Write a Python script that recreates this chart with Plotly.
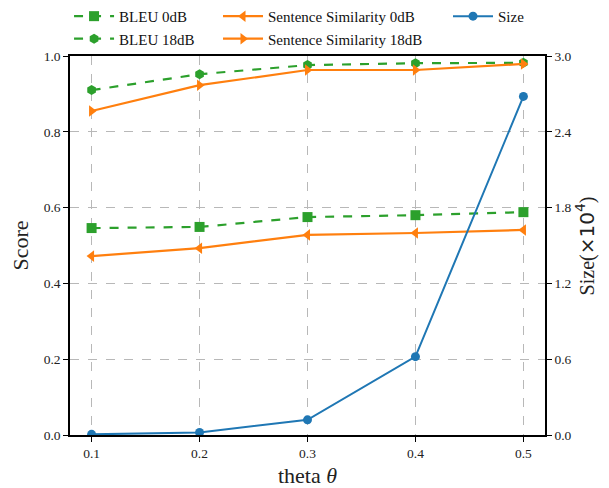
import plotly.graph_objects as go

theta = [0.1, 0.2, 0.3, 0.4, 0.5]
bleu_0db = [0.546, 0.549, 0.575, 0.580, 0.588]
bleu_18db = [0.910, 0.952, 0.976, 0.981, 0.982]
sim_0db = [0.472, 0.493, 0.528, 0.533, 0.541]
sim_18db = [0.855, 0.923, 0.963, 0.963, 0.979]
size_1e4 = [0.005, 0.02, 0.12, 0.62, 2.68]

x_ticks = [0.1, 0.2, 0.3, 0.4, 0.5]
y_ticks = [0.0, 0.2, 0.4, 0.6, 0.8, 1.0]
y2_ticks = [0.0, 0.6, 1.2, 1.8, 2.4, 3.0]

GREEN = "#2ca02c"
ORANGE = "#ff7f0e"
BLUE = "#1f77b4"
FONT = "Liberation Serif"

fig = go.Figure()
fig.add_trace(go.Scatter(x=theta, y=size_1e4, name="Size", yaxis="y2", mode="lines+markers",
                         line=dict(color=BLUE, width=2), marker=dict(symbol="circle", size=9, color=BLUE),
                         legend="legend3"))
fig.add_trace(go.Scatter(x=theta, y=bleu_0db, name="BLEU 0dB", mode="lines+markers",
                         line=dict(color=GREEN, width=2.2, dash="dash"),
                         marker=dict(symbol="square", size=10, color=GREEN), legend="legend"))
fig.add_trace(go.Scatter(x=theta, y=bleu_18db, name="BLEU 18dB", mode="lines+markers",
                         line=dict(color=GREEN, width=2.2, dash="dash"),
                         marker=dict(symbol="hexagon", size=10, color=GREEN), legend="legend"))
fig.add_trace(go.Scatter(x=theta, y=sim_0db, name="Sentence Similarity 0dB", mode="lines+markers",
                         line=dict(color=ORANGE, width=2.2),
                         marker=dict(symbol="triangle-left", size=10, color=ORANGE), legend="legend2"))
fig.add_trace(go.Scatter(x=theta, y=sim_18db, name="Sentence Similarity 18dB", mode="lines+markers",
                         line=dict(color=ORANGE, width=2.2),
                         marker=dict(symbol="triangle-right", size=10, color=ORANGE), legend="legend2"))

legend_common = dict(orientation="v", yanchor="top", xanchor="left", bgcolor="rgba(0,0,0,0)",
                     font=dict(family=FONT, size=15, color="#111"), tracegroupgap=0,
                     itemwidth=40)

fig.update_layout(
    width=601, height=480,
    margin=dict(l=62, r=64, t=48, b=53, autoexpand=False),
    paper_bgcolor="white", plot_bgcolor="white",
    font=dict(family=FONT, size=13.5, color="#222"),
    legend=dict(x=-0.002, y=1.148, **legend_common),
    legend2=dict(x=0.3116, y=1.148, **legend_common),
    legend3=dict(x=0.7958, y=1.148, **legend_common),
    xaxis=dict(range=[0.08, 0.52], tickvals=x_ticks, ticktext=[str(v) for v in x_ticks],
               showgrid=True, gridcolor="#b8b8b8", griddash="dash", gridwidth=1,
               showline=True, linecolor="black", linewidth=1.5, mirror=True,
               ticks="outside", ticklen=5, tickcolor="black", zeroline=False, automargin=False,
               title=dict(text="theta <i>θ</i>", font=dict(family=FONT, size=22))),
    yaxis=dict(range=[0, 1.0], tickvals=y_ticks, ticktext=[f"{v:.1f}" for v in y_ticks],
               showgrid=True, gridcolor="#b8b8b8", griddash="dash", gridwidth=1,
               showline=True, linecolor="black", linewidth=1.5,
               ticks="outside", ticklen=5, tickcolor="black", zeroline=False, automargin=False,
               title=dict(text="Score", font=dict(family=FONT, size=22))),
    yaxis2=dict(range=[0, 3.0], tickvals=y2_ticks, ticktext=[f"{v:.1f}" for v in y2_ticks],
                overlaying="y", side="right", showgrid=False,
                showline=True, linecolor="black", linewidth=1.5,
                ticks="outside", ticklen=5, tickcolor="black", zeroline=False, automargin=False),
    annotations=[dict(text="Size(<span style='font-family:DejaVu Sans'>×10<sup>4</sup></span>)",
                      xref="paper", yref="paper", x=1.084, y=0.5, xanchor="center", yanchor="middle",
                      textangle=-90, showarrow=False, font=dict(family=FONT, size=20, color="#222"))],
)

fig.write_html("out.html")
